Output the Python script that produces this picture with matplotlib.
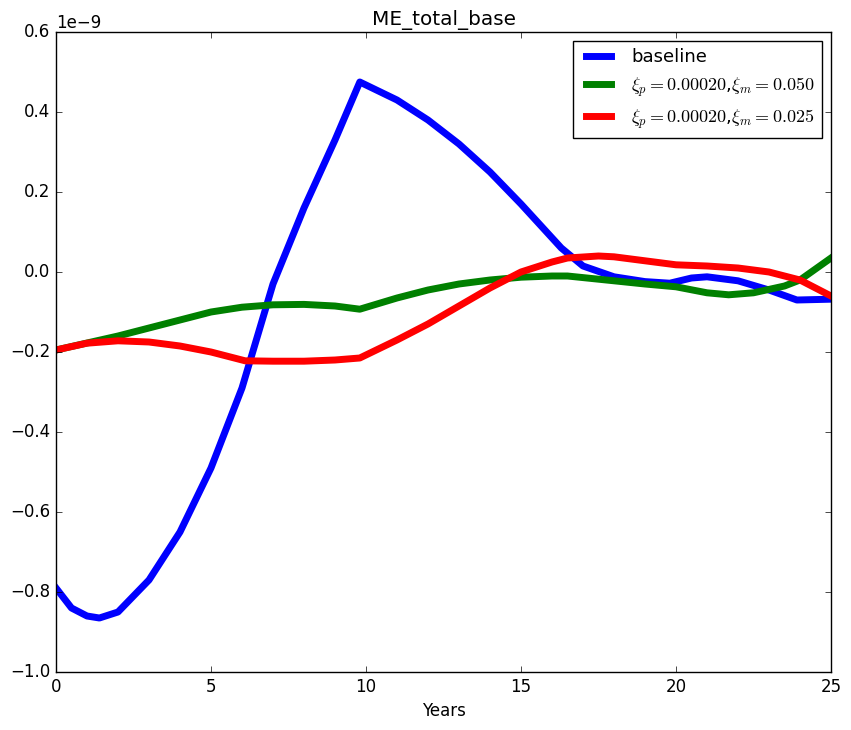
import numpy as np
import matplotlib
matplotlib.use('Agg')
import matplotlib.pyplot as plt

plt.style.use('classic')

# values in units of 1e-9
t_base = [0, 0.5, 1.0, 1.4, 2.0, 3.0, 4.0, 5.0, 6.0, 7.0, 8.0, 9.0, 9.8,
          11.0, 12.0, 13.0, 14.0, 15.0, 16.3, 17.0, 18.0, 19.0, 19.8,
          20.5, 21.0, 22.0, 23.0, 23.9, 25.0]
baseline = [-0.79, -0.84, -0.86, -0.865, -0.85, -0.77, -0.65, -0.49, -0.29, -0.03,
            0.16, 0.33, 0.475, 0.43, 0.38, 0.32, 0.25, 0.17, 0.06, 0.015,
            -0.012, -0.024, -0.028, -0.015, -0.012, -0.022, -0.045, -0.07, -0.068]

t_g = [0, 2, 4, 5, 6, 7, 8, 9, 9.8, 11, 12, 13, 14, 15, 16, 16.5, 18, 19, 20,
       21, 21.7, 22.5, 23.5, 24, 25]
green = [-0.195, -0.16, -0.12, -0.10, -0.088, -0.082, -0.081, -0.085, -0.093,
         -0.065, -0.045, -0.03, -0.02, -0.013, -0.01, -0.01, -0.022, -0.03,
         -0.037, -0.052, -0.057, -0.052, -0.035, -0.02, 0.035]

t_r = [0, 1, 2, 3, 4, 5, 6.1, 7, 8, 9, 9.8, 11, 12, 13, 14, 15, 16, 16.5, 17.5,
       18, 19, 20, 21, 22, 23, 24, 25]
red = [-0.195, -0.178, -0.172, -0.175, -0.185, -0.2, -0.222, -0.223, -0.223,
       -0.22, -0.215, -0.17, -0.13, -0.085, -0.04, 0.0, 0.025, 0.035, 0.04,
       0.038, 0.028, 0.018, 0.015, 0.01, 0.0, -0.02, -0.06]

fig = plt.figure(figsize=(8.51, 7.30), dpi=100, facecolor='white')
ax = fig.add_axes([56 / 851, 58 / 730, 775 / 851, 640 / 730])

ax.plot(t_base, np.array(baseline) * 1e-9, color='b', lw=5, label='baseline')
ax.plot(t_g, np.array(green) * 1e-9, color='g', lw=5,
        label=r'$\xi_p=0.00020$,$\xi_m=0.050$')
ax.plot(t_r, np.array(red) * 1e-9, color='r', lw=5,
        label=r'$\xi_p=0.00020$,$\xi_m=0.025$')

ax.set_xlim(0, 25)
ax.set_ylim(-1.0e-9, 0.6e-9)
ax.set_xlabel('Years')
ax.set_title('ME_total_base')
ax.legend(loc='upper right', fontsize=13)

fig.savefig('out.png', dpi=100, facecolor='white')
